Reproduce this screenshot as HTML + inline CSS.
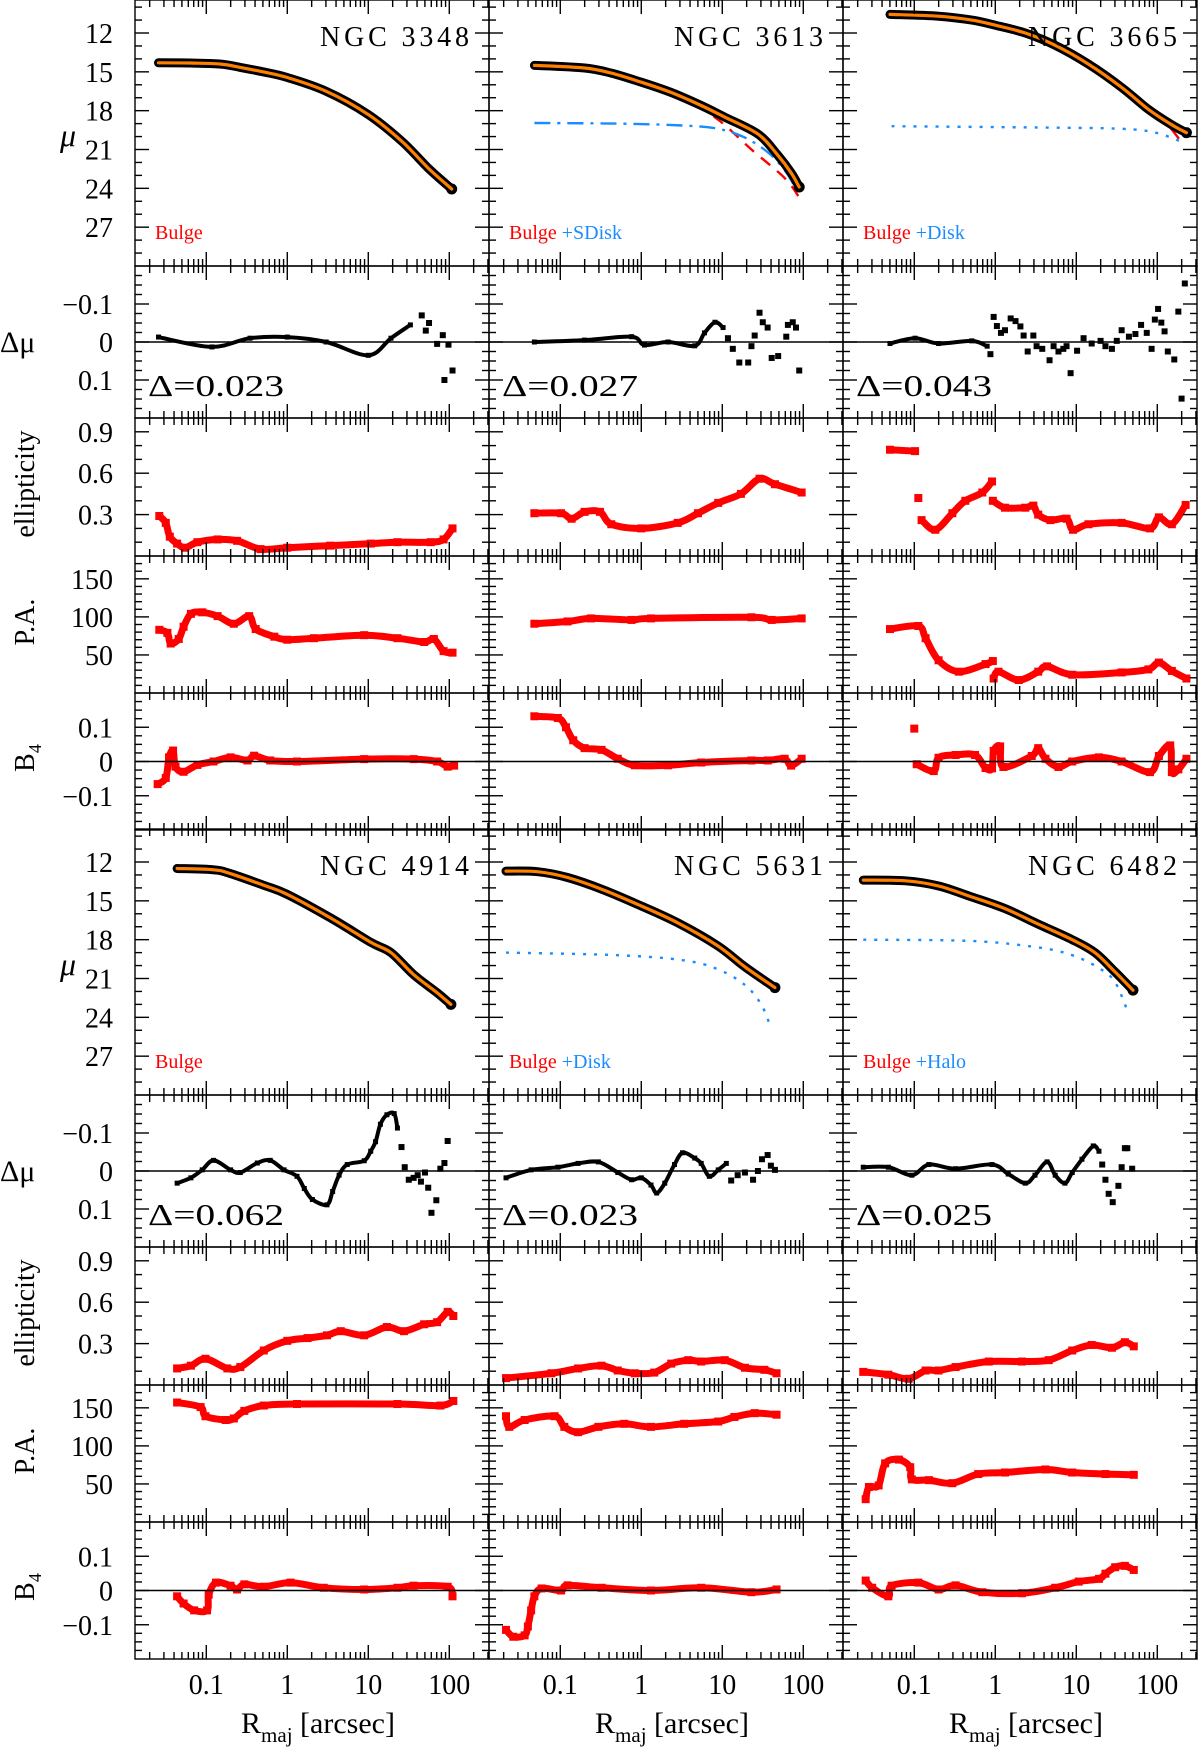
<!DOCTYPE html>
<html><head><meta charset="utf-8"><title>Galaxy profiles</title>
<style>
html,body{margin:0;padding:0;background:#fff;}
svg{display:block;font-family:"Liberation Serif",serif;}
</style></head>
<body>
<svg id="chart" xmlns="http://www.w3.org/2000/svg" width="1200" height="1752" viewBox="0 0 1200 1752"></svg>
<script>
// ===== DATA: [log10(R/arcsec), value] =====
// NGC 3348
const mu3348=[[-1.59,14.3],[-1.2,14.32],[-0.82,14.4],[-0.58,14.66],[-0.3,15.0],[0,15.44],[0.48,16.5],[1,18.3],[1.42,20.4],[1.75,22.5],[2.03,24.05]];
const dmuLine3348=[[-1.59,-0.013],[-0.93,0.013],[-0.46,-0.01],[0,-0.013],[0.48,0],[1.0,0.035],[1.28,-0.01],[1.52,-0.045]];
const dmuPts3348=[[1.66,-0.07],[1.71,-0.03],[1.75,-0.05],[1.85,0.005],[1.92,-0.018],[1.99,0.007],[1.94,0.10],[2.04,0.075]];
const ell3348=[[-1.58,0.29],[-1.5,0.24],[-1.45,0.14],[-1.36,0.09],[-1.26,0.06],[-1.11,0.10],[-0.86,0.12],[-0.62,0.11],[-0.33,0.05],[0,0.06],[0.53,0.075],[1.03,0.09],[1.36,0.10],[1.77,0.10],[1.93,0.12],[2.04,0.2]];
const pa3348=[[-1.58,83],[-1.48,79],[-1.44,65],[-1.34,71],[-1.28,87],[-1.19,104],[-1.05,106],[-0.86,101],[-0.66,91],[-0.47,101],[-0.39,84],[-0.16,74],[0,70],[0.33,72],[0.95,76],[1.36,72],[1.69,67],[1.81,71],[1.93,55],[2.04,53]];
const b43348=[[-1.6,-0.066],[-1.5,-0.048],[-1.46,0.012],[-1.41,0.032],[-1.38,-0.015],[-1.28,-0.03],[-1.11,-0.01],[-0.91,0],[-0.7,0.012],[-0.49,0.003],[-0.41,0.017],[-0.21,0.003],[0.12,0],[0.95,0.007],[1.56,0.007],[1.85,0],[1.98,-0.015],[2.06,-0.012]];
// NGC 3613
const mu3613=[[-1.32,14.5],[-0.7,14.7],[-0.37,15.1],[0,15.8],[0.37,16.6],[0.74,17.6],[1.03,18.5],[1.44,19.8],[1.68,21.4],[1.85,22.8],[1.95,23.9]];
const bulge3613=[[-1.32,14.5],[-0.7,14.7],[-0.37,15.1],[0,15.8],[0.53,17.05],[0.95,18.7],[1.36,21.0],[1.77,23.2],[1.95,24.7]];
const sdisk3613=[[-1.32,18.95],[-0.29,19.0],[0.53,19.15],[0.95,19.4],[1.27,20.05],[1.56,21.2],[1.77,22.6],[1.95,24.45]];
const dmuLine3613=[[-1.32,0],[-0.7,-0.005],[-0.12,-0.014],[0.04,0.008],[0.33,0],[0.66,0.01],[0.78,-0.024],[0.91,-0.052],[1.01,-0.038]];
const dmuPts3613=[[1.07,-0.01],[1.13,0.018],[1.21,0.054],[1.32,0.054],[1.36,0.011],[1.4,-0.017],[1.46,-0.077],[1.5,-0.052],[1.56,-0.038],[1.61,0.042],[1.69,0.037],[1.79,-0.014],[1.81,-0.045],[1.87,-0.052],[1.91,-0.038],[1.95,0.075]];
const ell3613=[[-1.32,0.31],[-0.99,0.31],[-0.86,0.27],[-0.7,0.32],[-0.51,0.32],[-0.37,0.23],[0,0.2],[0.45,0.24],[0.7,0.31],[0.95,0.385],[1.23,0.45],[1.46,0.56],[1.65,0.52],[1.98,0.46]];
const pa3613=[[-1.32,91],[-0.91,94],[-0.62,98],[-0.12,96],[0.12,98],[1.36,99.5],[1.61,96],[1.98,98]];
const b43613=[[-1.32,0.132],[-1.03,0.127],[-0.93,0.1],[-0.84,0.062],[-0.7,0.039],[-0.49,0.034],[-0.29,0.008],[-0.08,-0.011],[0.33,-0.011],[0.74,-0.003],[1.36,0.003],[1.56,0.003],[1.77,0.008],[1.85,-0.012],[1.98,0.008]];
// NGC 3665
const mu3665=[[-1.3,10.56],[-0.7,10.7],[-0.29,11.0],[0,11.4],[0.37,12.0],[0.74,12.95],[1.15,14.4],[1.56,16.2],[1.89,17.9],[2.18,19.1],[2.36,19.7]];
const bulge3665=[[1.89,17.9],[2.1,18.9],[2.26,20.1]];
const disk3665=[[-1.28,19.2],[0.53,19.3],[1.56,19.4],[1.98,19.7],[2.34,20.5]];
const dmuLine3665=[[-1.3,0.004],[-0.99,-0.01],[-0.7,0.004],[-0.29,-0.003],[-0.1,0.011]];
const dmuPts3665=[[-0.06,0.032],[-0.02,-0.066],[0.02,-0.042],[0.07,-0.024],[0.12,-0.031],[0.19,-0.062],[0.25,-0.055],[0.31,-0.041],[0.35,-0.017],[0.4,0.025],[0.47,-0.017],[0.51,0.011],[0.58,0.018],[0.67,0.048],[0.72,0.011],[0.78,0.025],[0.84,0.018],[0.88,0.011],[0.93,0.082],[1.01,0.023],[1.09,-0.01],[1.19,0.004],[1.3,-0.003],[1.36,0.011],[1.44,0.018],[1.5,-0.003],[1.56,-0.031],[1.65,-0.014],[1.73,-0.021],[1.8,-0.045],[1.87,-0.024],[1.93,0.018],[1.97,-0.059],[2.01,-0.087],[2.05,-0.051],[2.09,-0.028],[2.13,0.025],[2.21,0.046],[2.26,-0.08],[2.3,0.149],[2.34,-0.154]];
const ell3665a=[[-1.3,0.77],[-0.99,0.76]];
const ell3665b=[[-0.95,0.42]];
const ell3665c=[[-0.91,0.26],[-0.74,0.19],[-0.53,0.31],[-0.37,0.40],[-0.16,0.46],[-0.04,0.54]];
const ell3665d=[[-0.03,0.40],[0.12,0.35],[0.37,0.35],[0.47,0.365],[0.53,0.30],[0.68,0.26],[0.88,0.27],[0.96,0.19],[1.15,0.23],[1.56,0.24],[1.91,0.2],[2.02,0.28],[2.18,0.23],[2.35,0.37]];
const pa3665a=[[-1.3,84],[-0.95,88],[-0.86,72],[-0.7,43],[-0.45,28],[-0.12,38],[-0.03,42]];
const pa3665b=[[-0.02,19],[0.04,28],[0.29,17],[0.53,28],[0.64,35],[0.95,24],[1.56,27],[1.89,31],[2.02,40],[2.18,29],[2.36,19]];
const b43665pt=[[-1.0,0.096]];
const b43665=[[-0.97,-0.008],[-0.76,-0.028],[-0.7,0.011],[-0.49,0.019],[-0.25,0.019],[-0.12,-0.019],[-0.04,-0.02],[-0.02,0.031],[0.06,0.044],[0.1,-0.016],[0.45,0.016],[0.53,0.039],[0.62,0.008],[0.78,-0.016],[0.95,0],[1.28,0.012],[1.56,0],[1.91,-0.031],[2.02,0.016],[2.16,0.047],[2.18,-0.031],[2.26,-0.023],[2.36,0.008]];
// NGC 4914
const mu4914=[[-1.36,12.5],[-0.91,12.6],[-0.7,12.9],[-0.29,13.8],[0,14.5],[0.53,16.3],[1.03,18.2],[1.28,19.0],[1.56,20.7],[1.85,22.1],[2.02,23.0]];
const dmuLine4914=[[-1.36,0.032],[-1.19,0.018],[-1.05,-0.003],[-0.91,-0.028],[-0.7,-0.003],[-0.58,0.004],[-0.37,-0.021],[-0.21,-0.028],[-0.04,-0.003],[0.12,0.014],[0.21,0.046],[0.31,0.075],[0.49,0.089],[0.56,0.054],[0.64,0.011],[0.74,-0.017],[0.95,-0.027],[1.03,-0.052],[1.09,-0.077],[1.15,-0.123],[1.23,-0.148],[1.32,-0.151],[1.36,-0.113]];
const dmuPts4914=[[1.41,-0.063],[1.45,-0.01],[1.5,0.023],[1.56,0.018],[1.61,0.011],[1.65,0.028],[1.7,0.004],[1.74,0.044],[1.78,0.11],[1.84,0.077],[1.89,-0.006],[1.94,-0.021],[1.98,-0.079]];
const ell4914=[[-1.36,0.12],[-1.19,0.14],[-1.01,0.19],[-0.74,0.12],[-0.58,0.13],[-0.29,0.25],[0,0.32],[0.25,0.34],[0.49,0.36],[0.66,0.39],[0.95,0.36],[1.23,0.42],[1.44,0.39],[1.69,0.44],[1.85,0.455],[1.98,0.53],[2.05,0.50]];
const pa4914=[[-1.36,157],[-1.07,151],[-1.01,139],[-0.76,134],[-0.66,136],[-0.53,146],[-0.29,153],[0.12,155],[1.36,155],[1.89,153],[2.05,159]];
const b44914=[[-1.36,-0.017],[-1.28,-0.038],[-1.15,-0.058],[-0.99,-0.058],[-0.97,-0.012],[-0.88,0.023],[-0.7,0.014],[-0.62,0.003],[-0.53,0.018],[-0.29,0.011],[0.04,0.023],[0.45,0.008],[0.95,0.003],[1.36,0.008],[1.56,0.014],[1.98,0.011],[2.04,-0.017]];
// NGC 5631
const mu5631=[[-1.67,12.7],[-1.28,12.75],[-0.91,13.2],[-0.49,14.1],[0,15.4],[0.45,16.7],[0.95,18.5],[1.28,20.1],[1.65,21.7]];
const bulge5631=[[0.45,16.8],[0.95,18.7],[1.28,20.25],[1.65,21.8]];
const disk5631=[[-1.67,19.0],[-0.29,19.2],[0.53,19.6],[0.95,20.3],[1.28,21.5],[1.48,23.0],[1.6,24.8]];
const dmuLine5631=[[-1.67,0.018],[-1.36,-0.003],[-1.03,-0.01],[-0.78,-0.02],[-0.53,-0.024],[-0.29,0.004],[-0.12,0.023],[0,0.018],[0.12,0.037],[0.19,0.058],[0.29,0.032],[0.41,-0.017],[0.51,-0.048],[0.66,-0.034],[0.74,-0.02],[0.84,0.014],[0.95,-0.003],[1.05,-0.02]];
const dmuPts5631=[[1.11,0.025],[1.19,0.011],[1.28,0.004],[1.38,0.023],[1.44,0],[1.49,-0.031],[1.56,-0.042],[1.6,-0.014],[1.65,-0.003]];
const ell5631=[[-1.67,0.05],[-1.11,0.085],[-0.78,0.12],[-0.49,0.14],[-0.29,0.105],[-0.08,0.085],[0.16,0.09],[0.37,0.155],[0.58,0.18],[0.74,0.17],[1.03,0.18],[1.28,0.125],[1.52,0.11],[1.67,0.085]];
const pa5631=[[-1.67,139],[-1.63,125],[-1.44,134],[-1.07,139],[-0.95,125],[-0.78,118],[-0.53,125],[-0.21,129],[0.12,125],[0.53,129],[0.95,132],[1.15,138],[1.4,143],[1.67,141]];
const b45631=[[-1.67,-0.115],[-1.58,-0.135],[-1.44,-0.131],[-1.4,-0.105],[-1.36,-0.058],[-1.32,-0.017],[-1.23,0.006],[-0.99,0],[-0.91,0.015],[-0.49,0.008],[0.12,0],[0.74,0.008],[1.36,-0.005],[1.67,0.003]];
// NGC 6482
const mu6482=[[-1.63,13.4],[-1.11,13.45],[-0.7,13.85],[-0.29,14.7],[0.12,15.6],[0.53,16.8],[0.95,18.0],[1.23,19.0],[1.48,20.5],[1.7,21.9]];
const bulge6482=[[0.12,15.65],[0.53,16.95],[0.95,18.25],[1.23,19.3],[1.48,20.7],[1.7,22.0]];
const halo6482=[[-1.63,18.0],[-0.29,18.1],[0.53,18.6],[0.95,19.2],[1.28,20.2],[1.48,21.3],[1.65,23.8]];
const dmuLine6482=[[-1.63,-0.01],[-1.32,-0.01],[-1.03,0.011],[-0.82,-0.017],[-0.49,-0.006],[-0.04,-0.017],[0.16,0.008],[0.37,0.032],[0.49,0.011],[0.64,-0.024],[0.74,0.011],[0.86,0.032],[0.95,0.004],[1.07,-0.031],[1.21,-0.066],[1.28,-0.052]];
const dmuPts6482=[[1.32,-0.017],[1.36,0.023],[1.4,0.06],[1.45,0.082],[1.52,0.039],[1.56,-0.01],[1.6,-0.06],[1.63,-0.06],[1.69,-0.006]];
const ell6482=[[-1.63,0.095],[-1.32,0.075],[-1.07,0.045],[-0.86,0.105],[-0.7,0.105],[-0.49,0.13],[-0.08,0.17],[0.33,0.17],[0.66,0.18],[0.95,0.25],[1.19,0.29],[1.44,0.27],[1.6,0.31],[1.71,0.28]];
const pa6482=[[-1.6,30],[-1.56,46],[-1.44,48],[-1.36,77],[-1.19,82],[-1.05,72],[-1.03,56],[-0.82,55],[-0.53,51],[-0.21,63],[0.12,65],[0.62,69],[0.95,65],[1.36,63],[1.71,62]];
const b46482=[[-1.6,0.029],[-1.52,0.008],[-1.32,-0.017],[-1.28,0.014],[-0.95,0.023],[-0.7,0.003],[-0.49,0.015],[-0.16,-0.005],[0.33,-0.008],[0.74,0.008],[1.03,0.026],[1.28,0.034],[1.36,0.049],[1.48,0.068],[1.6,0.072],[1.71,0.06]];

const galaxyNames=['NGC 3348','NGC 3613','NGC 3665','NGC 4914','NGC 5631','NGC 6482'];
const rmsLabels=['Δ=0.023','Δ=0.027','Δ=0.043','Δ=0.062','Δ=0.023','Δ=0.025'];
const xTickLabels=['0.1','1','10','100'];
const muTicks=[12,15,18,21,24,27];
const dmuTicks=[-0.1,0,0.1];
const ellTicks=[0.3,0.6,0.9];
const paTicks=[50,100,150];
const b4Ticks=[-0.1,0,0.1];

// ===== LAYOUT =====
const NS='http://www.w3.org/2000/svg';
const svg=document.getElementById('chart');
const colX=[135,489,843], colW=354;
const blockY=[0,829];
const pOff=[0,266,418,556,693], pH=[266,152,138,137,137];
const XMIN=-1.88, DEC=81;
const ranges=[[9.45,30,true],[-0.2,0.2,true],[0,1,false],[0,180,false],[-0.2,0.2,false]];
function xS(c,lr){return colX[c]+(lr-XMIN)*DEC;}
function yS(b,p,v){const r=ranges[p];const top=blockY[b]+pOff[p];const f=(v-r[0])/(r[1]-r[0]);return r[2]?top+f*pH[p]:top+pH[p]-f*pH[p];}
function mk(tag,attrs,parent){const e=document.createElementNS(NS,tag);for(const k in attrs)e.setAttribute(k,attrs[k]);(parent||svg).appendChild(e);return e;}

let clipN=0;
function panelGroup(c,b,p){
  const id='cl'+(clipN++);
  const cp=mk('clipPath',{id:id});
  mk('rect',{x:colX[c],y:blockY[b]+pOff[p],width:colW,height:pH[p]},cp);
  const g=mk('g',{'clip-path':'url(#'+id+')'});
  return g;
}
// smooth (Catmull-Rom) path through screen points
function pathD(c,b,p,arr){
  const P=arr.map(d=>[xS(c,d[0]),yS(b,p,d[1])]);
  let s='M'+P[0][0].toFixed(1)+','+P[0][1].toFixed(1);
  for(let i=0;i<P.length-1;i++){
    const p0=P[Math.max(0,i-1)],p1=P[i],p2=P[i+1],p3=P[Math.min(P.length-1,i+2)];
    const c1=[p1[0]+(p2[0]-p0[0])/6,p1[1]+(p2[1]-p0[1])/6];
    const c2=[p2[0]-(p3[0]-p1[0])/6,p2[1]-(p3[1]-p1[1])/6];
    s+='C'+c1[0].toFixed(1)+','+c1[1].toFixed(1)+' '+c2[0].toFixed(1)+','+c2[1].toFixed(1)+' '+p2[0].toFixed(1)+','+p2[1].toFixed(1);
  }
  return s;
}
function line(g,c,b,p,arr,stroke,w,dash,name){
  const e=mk('path',{d:pathD(c,b,p,arr),fill:'none',stroke:stroke,'stroke-width':w,'stroke-linejoin':'round','stroke-linecap':dash?'butt':'round'},g);
  if(dash)e.setAttribute('stroke-dasharray',dash);
  
  
  return e;
}
function squares(g,c,b,p,arr,fill,s,name){
  for(const d of arr){
    const e=mk('rect',{x:xS(c,d[0])-s/2,y:yS(b,p,d[1])-s/2,width:s,height:s,fill:fill},g);
    
    
  }
}
function redSeries(g,c,b,p,arr,name){
  if(arr.length>1)line(g,c,b,p,arr,'#ff0000',7,null,name+'-line');
  squares(g,c,b,p,arr,'#ff0000',8,name);
}
function txt(s,x,y,attrs,parent){const e=mk('text',Object.assign({x:x,y:y},attrs),parent);e.textContent=s;return e;}

const minorX=[];
for(let k=-2;k<=2;k++)for(let m=1;m<=9;m++){const v=Math.log10(m)+k;if(v>XMIN&&v<XMIN+colW/DEC)minorX.push([v,m===1]);}

function axes(c,b,p){
  const L=colX[c],R=colX[c]+colW,T=blockY[b]+pOff[p],B=T+pH[p];
  const g=mk('g',{stroke:'#000','stroke-width':1.4});
  
  
  mk('rect',{x:L,y:T,width:colW,height:pH[p],fill:'none'},g);
  for(const [v,maj] of minorX){const x=xS(c,v);const len=maj?14:7;
    mk('line',{x1:x,y1:T,x2:x,y2:T+len},g);mk('line',{x1:x,y1:B,x2:x,y2:B-len},g);}
  const r=ranges[p];
  const spec=[[1,3,12],[0.025,0.1,-0.1],[0.1,0.3,0.3],[10,50,50],[0.025,0.1,-0.1]][p];
  const lo=Math.min(r[0],r[1]),hi=Math.max(r[0],r[1]);
  for(let v=Math.ceil(lo/spec[0]-1e-6)*spec[0];v<=hi+1e-9;v+=spec[0]){
    const q=(v-spec[2])/spec[1];const maj=Math.abs(q-Math.round(q))<1e-6;
    const y=yS(b,p,v);if(y<=T+1||y>=B-1)continue;const len=maj?14:7;
    mk('line',{x1:L,y1:y,x2:L+len,y2:y},g);mk('line',{x1:R,y1:y,x2:R-len,y2:y},g);
  }
  if(p===1||p===4){mk('line',{x1:L,y1:yS(b,p,0),x2:R,y2:yS(b,p,0)},g);}
}

const tickSets=[muTicks,dmuTicks,ellTicks,paTicks,b4Ticks];
function fmt(p,v){if(v<0)return '−'+String(-v);return String(v);}
function yLabels(b){
  for(let p=0;p<5;p++){
    for(const v of tickSets[p]){
      const e=txt(fmt(p,v),113,yS(b,p,v)+10,{'font-size':28,'text-anchor':'end'});
      
      
    }
  }
  const o=blockY[b];
  let e=txt('μ',60,o+146,{'font-size':32,'font-style':'italic'});
  
  e=txt('Δμ',0,o+352,{'font-size':30});
  
  e=txt('ellipticity',34,o+484,{'font-size':28,'text-anchor':'middle',transform:'rotate(-90 34 '+(o+484)+')'});
  
  e=txt('P.A.',34,o+622,{'font-size':28,'text-anchor':'middle',transform:'rotate(-90 34 '+(o+622)+')'});
  
  e=mk('text',{x:34,y:o+758,'font-size':28,'text-anchor':'middle',transform:'rotate(-90 34 '+(o+758)+')'});
  e.innerHTML='B<tspan font-size="18" dy="7">4</tspan>';
  
}

const galaxies=[
 {c:0,b:0,mu:mu3348,comps:[],leg:[['Bulge','#ff0000']],dl:dmuLine3348,dp:dmuPts3348,ell:[ell3348],pa:[pa3348],b4:[b43348],b4p:[]},
 {c:1,b:0,mu:mu3613,comps:[[bulge3613,'#ff0000','12,9','bulge-model'],[sdisk3613,'#1a8cff','16,7,3,7','sdisk-model']],leg:[['Bulge','#ff0000'],[' +SDisk','#1a8cff']],dl:dmuLine3613,dp:dmuPts3613,ell:[ell3613],pa:[pa3613],b4:[b43613],b4p:[]},
 {c:2,b:0,mu:mu3665,comps:[[disk3665,'#1a8cff','3,8','disk-model'],[bulge3665,'#ff0000',null,'bulge-model']],leg:[['Bulge','#ff0000'],[' +Disk','#1a8cff']],dl:dmuLine3665,dp:dmuPts3665,ell:[ell3665a,ell3665b,ell3665c,ell3665d],pa:[pa3665a,pa3665b],b4:[b43665],b4p:b43665pt},
 {c:0,b:1,mu:mu4914,comps:[],leg:[['Bulge','#ff0000']],dl:dmuLine4914,dp:dmuPts4914,ell:[ell4914],pa:[pa4914],b4:[b44914],b4p:[]},
 {c:1,b:1,mu:mu5631,comps:[[disk5631,'#1a8cff','3,8','disk-model'],[bulge5631,'#ff0000',null,'bulge-model']],leg:[['Bulge','#ff0000'],[' +Disk','#1a8cff']],dl:dmuLine5631,dp:dmuPts5631,ell:[ell5631],pa:[pa5631],b4:[b45631],b4p:[]},
 {c:2,b:1,mu:mu6482,comps:[[halo6482,'#1a8cff','3,8','halo-model'],[bulge6482,'#ff0000',null,'bulge-model']],leg:[['Bulge','#ff0000'],[' +Halo','#1a8cff']],dl:dmuLine6482,dp:dmuPts6482,ell:[ell6482],pa:[pa6482],b4:[b46482],b4p:[]}
];

galaxies.forEach((G,i)=>{
  const c=G.c,b=G.b;
  let g=panelGroup(c,b,0);
  for(const cm of G.comps)line(g,c,b,0,cm[0],cm[1],2.4,cm[2],cm[3]);
  line(g,c,b,0,G.mu,'#000',9,null,'surface-brightness-data');
  const last=G.mu[G.mu.length-1];
  const dot=mk('circle',{cx:xS(c,last[0]),cy:yS(b,0,last[1]),r:5.5,fill:'#000'},g);
  
  
  line(g,c,b,0,G.mu,'#ff8000',3.2,null,'total-model-line');
  g=panelGroup(c,b,1);
  line(g,c,b,1,G.dl,'#000',4,null,'residual-line');
  squares(g,c,b,1,G.dl,'#000',5,'residual-point');
  squares(g,c,b,1,G.dp,'#000',6,'residual-point');
  g=panelGroup(c,b,2);for(const s of G.ell)redSeries(g,c,b,2,s,'ellipticity-point');
  g=panelGroup(c,b,3);for(const s of G.pa)redSeries(g,c,b,3,s,'pa-point');
  g=panelGroup(c,b,4);for(const s of G.b4)redSeries(g,c,b,4,s,'b4-point');
  squares(g,c,b,4,G.b4p,'#ff0000',8,'b4-point');
  for(let p=0;p<5;p++)axes(c,b,p);
  const R=colX[c]+colW;
  let e=txt(galaxyNames[i],R-169,blockY[b]+46,{'font-size':28,textLength:149,lengthAdjust:'spacing'});
  
  e=txt(rmsLabels[i],colX[c]+13,blockY[b]+396,{'font-size':31,textLength:136,lengthAdjust:'spacingAndGlyphs'});
  
  e=mk('text',{x:colX[c]+20,y:blockY[b]+239,'font-size':20});
  
  for(const l of G.leg){const t=mk('tspan',{fill:l[1]},e);t.textContent=l[0];}
});
yLabels(0);yLabels(1);

for(let c=0;c<3;c++){
  xTickLabels.forEach((s,k)=>{
    const e=txt(s,xS(c,k-1),1694,{'font-size':28,'text-anchor':'middle'});
    
  });
  const e=mk('text',{x:colX[c]+183,y:1733,'font-size':30,'text-anchor':'middle'});
  e.innerHTML='R<tspan font-size="21" dy="9">maj</tspan><tspan dy="-9"> [arcsec]</tspan>';
  
}
</script>
</body></html>
